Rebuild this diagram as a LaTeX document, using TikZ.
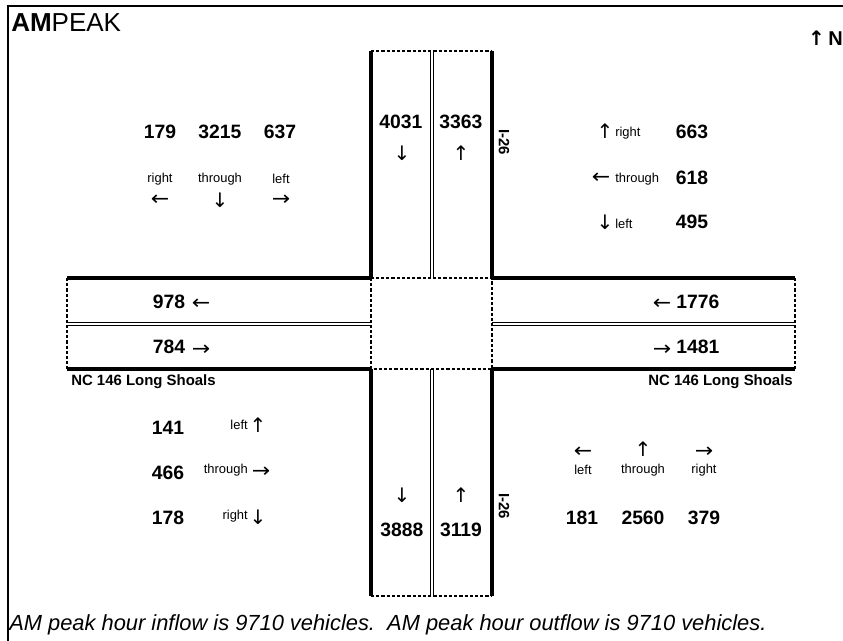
\documentclass[tikz,border=0pt]{standalone}
\usepackage{fontspec}
\setmainfont{Liberation Sans}
\newfontfamily\arrowfont{DejaVu Sans}
\begin{document}
\begin{tikzpicture}[x=0.75pt,y=-0.75pt,
  thickline/.style={line width=2.6pt},
  thinline/.style={line width=0.8pt},
  dashline/.style={line width=1.3pt,dash pattern=on 2.4pt off 1.5pt},
  num/.style={inner sep=0pt,font=\fontsize{14.5}{16}\selectfont\bfseries},
  lbl/.style={inner sep=0pt,font=\fontsize{9.7}{11}\selectfont},
  arr/.style={inner sep=0pt,font=\arrowfont\fontsize{15}{17}\selectfont},
  harr/.style={inner sep=0pt,font=\arrowfont\fontsize{15}{17}\selectfont,xscale=1.1},
  road/.style={inner sep=0pt,font=\fontsize{11.2}{13}\selectfont\bfseries}]
\useasboundingbox (0,0) rectangle (843,640);
% frame
\draw[thinline] (8,660) -- (8,6) -- (860,6);
% title
\node[anchor=west,inner sep=0pt,font=\fontsize{19.5}{21}\selectfont] (title) at (11,23) {\textbf{AM}PEAK};
\node[anchor=east,inner sep=0pt,font=\fontsize{15}{17}\selectfont\bfseries] (north) at (843,38) {{\arrowfont\fontsize{15}{17}\selectfont↑}\,N};
% vertical road, north leg
\draw[thickline] (371,51) -- (371,278);
\draw[thickline] (492,51) -- (492,278);
\draw[thinline] (430.5,51) -- (430.5,278);
\draw[thinline] (433.5,51) -- (433.5,278);
\draw[dashline] (371,51) -- (492,51);
% south leg
\draw[thickline] (371,369) -- (371,596);
\draw[thickline] (492,369) -- (492,596);
\draw[thinline] (430.5,369) -- (430.5,596);
\draw[thinline] (433.5,369) -- (433.5,596);
\draw[dashline] (371,596) -- (492,596);
% west leg
\draw[thickline] (67,278) -- (372,278);
\draw[thickline] (67,369) -- (372,369);
\draw[thinline] (67,322.5) -- (371,322.5);
\draw[thinline] (67,325.5) -- (371,325.5);
\draw[dashline] (67,278) -- (67,369);
% east leg
\draw[thickline] (491,278) -- (795,278);
\draw[thickline] (491,369) -- (795,369);
\draw[thinline] (492,322.5) -- (795,322.5);
\draw[thinline] (492,325.5) -- (795,325.5);
\draw[dashline] (795,278) -- (795,369);
% intersection box
\draw[dashline] (371,278) rectangle (492,369);
% north leg labels
\node[num] (n4031) at (401,122) {4031};
\node[arr] (a4031) at (402,153) {↓};
\node[num] (n3363) at (461,122) {3363};
\node[arr] (a3363) at (461,153) {↑};
\node[road,rotate=-90] (i26n) at (504,142) {I-26};
% south leg labels
\node[arr] (a3888) at (402,495) {↓};
\node[num] (n3888) at (402,530) {3888};
\node[arr] (a3119) at (461,495) {↑};
\node[num] (n3119) at (461,530) {3119};
\node[road,rotate=-90] (i26s) at (504,506) {I-26};
% top-left block
\node[num] (n179) at (160,132) {179};
\node[num] (n3215) at (220,132) {3215};
\node[num] (n637) at (280,132) {637};
\node[lbl] (l179) at (160,179) {right};
\node[lbl] (l3215) at (220,179) {through};
\node[lbl] (l637) at (281,179) {left};
\node[harr] (a179) at (160,200) {←};
\node[arr] (a3215) at (220,200) {↓};
\node[harr] (a637) at (281,200) {→};
% top-right block
\node[arr] (a663) at (605,131) {↑};
\node[lbl,anchor=west] (l663) at (615,133) {right};
\node[num] (n663) at (692,132) {663};
\node[harr] (a618) at (601,178) {←};
\node[lbl,anchor=west] (l618) at (615,179) {through};
\node[num] (n618) at (692,178) {618};
\node[arr] (a495) at (605,222) {↓};
\node[lbl,anchor=west] (l495) at (615,224) {left};
\node[num] (n495) at (692,222) {495};
% west leg labels
\node[num] (n978) at (169,302) {978};
\node[harr] (a978) at (201,304) {←};
\node[num] (n784) at (169,347) {784};
\node[harr] (a784) at (201,350) {→};
\node[road,anchor=west] (roadw) at (71,382) {NC 146 Long Shoals};
% east leg labels
\node[harr] (a1776) at (662,304) {←};
\node[num,anchor=west] (n1776) at (676,302) {1776};
\node[harr] (a1481) at (662,350) {→};
\node[num,anchor=west] (n1481) at (676,347) {1481};
\node[road,anchor=east] (roade) at (793,382) {NC 146 Long Shoals};
% bottom-left block
\node[num] (n141) at (168,428) {141};
\node[lbl,anchor=east] (l141) at (248,425) {left};
\node[arr] (a141) at (258,425) {↑};
\node[num] (n466) at (168,473) {466};
\node[lbl,anchor=east] (l466) at (248,470) {through};
\node[harr] (a466) at (261,472) {→};
\node[num] (n178) at (168,518) {178};
\node[lbl,anchor=east] (l178) at (248,516) {right};
\node[arr] (a178) at (258,517) {↓};
% bottom-right block
\node[harr] (a181) at (583,452) {←};
\node[arr] (a2560) at (643,449) {↑};
\node[harr] (a379) at (704,452) {→};
\node[lbl] (l181) at (583,470) {left};
\node[lbl] (l2560) at (643,470) {through};
\node[lbl] (l379) at (704,470) {right};
\node[num] (n181) at (582,518) {181};
\node[num] (n2560) at (643,518) {2560};
\node[num] (n379) at (704,518) {379};
% footer
\node[anchor=west,inner sep=0pt,font=\fontsize{16.4}{18}\selectfont\itshape] (footer) at (9,625) {AM peak hour inflow is 9710 vehicles.\ \ AM peak hour outflow is 9710 vehicles.};
\end{tikzpicture}
\end{document}
